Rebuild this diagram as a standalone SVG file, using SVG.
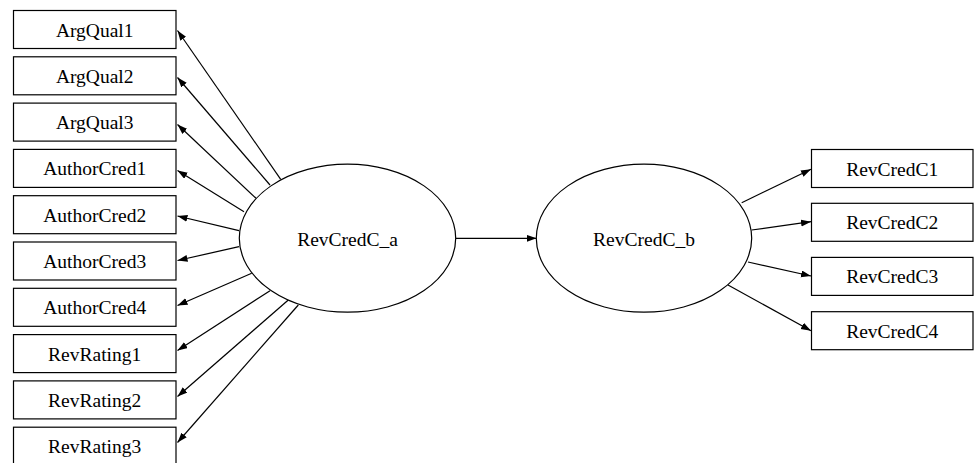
<svg xmlns="http://www.w3.org/2000/svg" width="974" height="463" viewBox="0 0 974 463">
<style>
.box{fill:#fff;stroke:#000;stroke-width:1.2}
.ell{fill:#fff;stroke:#000;stroke-width:1.2}
.lbl{font-family:"Liberation Serif","Times New Roman",serif;font-size:19.5px;fill:#000;text-anchor:middle}
.edge{stroke:#000;stroke-width:1.2;fill:none;marker-end:url(#ah)}
</style>
<defs>
<marker id="ah" markerUnits="userSpaceOnUse" markerWidth="11" markerHeight="8" refX="10" refY="3.5" orient="auto">
<path d="M0,0 L10,3.5 L0,7 z" fill="#000"/>
</marker>
</defs>
<rect width="974" height="463" fill="#fff"/>
<g id="connectors">
<line class="edge" x1="280.7" y1="179.3" x2="177.5" y2="30.5"/>
<line class="edge" x1="270" y1="185" x2="177.5" y2="77.5"/>
<line class="edge" x1="256" y1="198.3" x2="177.5" y2="124.5"/>
<line class="edge" x1="244" y1="211.7" x2="177.5" y2="170.5"/>
<line class="edge" x1="239" y1="230.7" x2="177.5" y2="216"/>
<line class="edge" x1="239" y1="246.7" x2="177.5" y2="260.5"/>
<line class="edge" x1="251.7" y1="273.3" x2="177.5" y2="305.5"/>
<line class="edge" x1="270" y1="290.7" x2="177.5" y2="350.5"/>
<line class="edge" x1="288.3" y1="300" x2="177.5" y2="396.5"/>
<line class="edge" x1="298.3" y1="305" x2="177.5" y2="442.5"/>
<line class="edge" x1="455.7" y1="238.3" x2="536.5" y2="238.3"/>
<line class="edge" x1="741.7" y1="202.7" x2="811" y2="169.3"/>
<line class="edge" x1="751.7" y1="230" x2="811" y2="221.7"/>
<line class="edge" x1="748" y1="262" x2="811" y2="276"/>
<line class="edge" x1="728" y1="285" x2="811" y2="330.7"/>
</g>
<g id="ArgQual1"><rect class="box" x="13.5" y="10.5" width="162.5" height="38"/><text class="lbl" x="94.7" y="36.5">ArgQual1</text></g>
<g id="ArgQual2"><rect class="box" x="13.5" y="56.8" width="162.5" height="38"/><text class="lbl" x="94.7" y="82.8">ArgQual2</text></g>
<g id="ArgQual3"><rect class="box" x="13.5" y="103.1" width="162.5" height="38"/><text class="lbl" x="94.7" y="129.1">ArgQual3</text></g>
<g id="AuthorCred1"><rect class="box" x="13.5" y="149.4" width="162.5" height="38"/><text class="lbl" x="94.7" y="175.4">AuthorCred1</text></g>
<g id="AuthorCred2"><rect class="box" x="13.5" y="195.7" width="162.5" height="38"/><text class="lbl" x="94.7" y="221.7">AuthorCred2</text></g>
<g id="AuthorCred3"><rect class="box" x="13.5" y="242" width="162.5" height="38"/><text class="lbl" x="94.7" y="268">AuthorCred3</text></g>
<g id="AuthorCred4"><rect class="box" x="13.5" y="288.3" width="162.5" height="38"/><text class="lbl" x="94.7" y="314.3">AuthorCred4</text></g>
<g id="RevRating1"><rect class="box" x="13.5" y="334.6" width="162.5" height="38"/><text class="lbl" x="94.7" y="360.6">RevRating1</text></g>
<g id="RevRating2"><rect class="box" x="13.5" y="380.9" width="162.5" height="38"/><text class="lbl" x="94.7" y="406.9">RevRating2</text></g>
<g id="RevRating3"><rect class="box" x="13.5" y="427.2" width="162.5" height="38"/><text class="lbl" x="94.7" y="453.2">RevRating3</text></g>
<g id="RevCredC_a"><ellipse class="ell" cx="347.5" cy="238.2" rx="108.2" ry="74"/><text class="lbl" x="347.5" y="246">RevCredC_a</text></g>
<g id="RevCredC_b"><ellipse class="ell" cx="644" cy="238.2" rx="107.7" ry="74"/><text class="lbl" x="644" y="246">RevCredC_b</text></g>
<g id="RevCredC1"><rect class="box" x="811.5" y="149.5" width="161.5" height="38"/><text class="lbl" x="892.2" y="175.5">RevCredC1</text></g>
<g id="RevCredC2"><rect class="box" x="811.5" y="203.3" width="161.5" height="38"/><text class="lbl" x="892.2" y="229.3">RevCredC2</text></g>
<g id="RevCredC3"><rect class="box" x="811.5" y="257.4" width="161.5" height="38"/><text class="lbl" x="892.2" y="283.4">RevCredC3</text></g>
<g id="RevCredC4"><rect class="box" x="811.5" y="311.7" width="161.5" height="38"/><text class="lbl" x="892.2" y="337.7">RevCredC4</text></g>
</svg>
